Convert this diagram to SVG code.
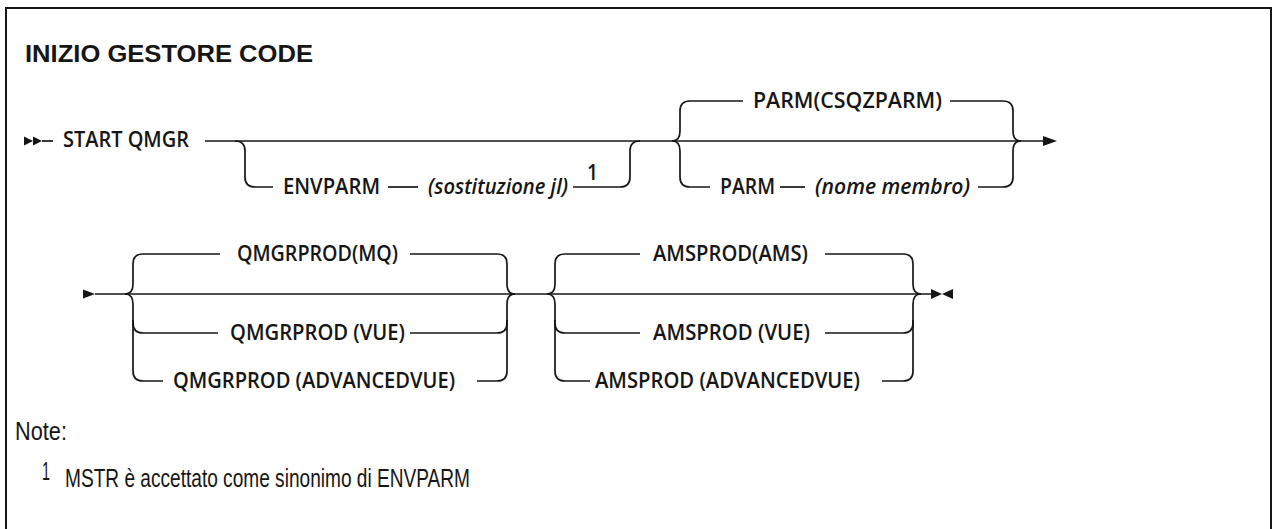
<svg xmlns="http://www.w3.org/2000/svg" width="1273" height="529" viewBox="0 0 1273 529">
<style>
.t{font-family:"Open Sans","Liberation Sans",Arial,sans-serif;font-size:21px;font-weight:600;fill:#161616}
.i{font-style:italic}
.ttl{font-family:"Liberation Sans",Arial,sans-serif;font-size:24px;font-weight:bold;fill:#161616}
.n{font-family:"Liberation Sans",Arial,sans-serif;font-size:25px;fill:#161616}
.ln{fill:none;stroke:#161616;stroke-width:1.7}
.ah{fill:#161616;stroke:none}
</style>
<rect x="6" y="8" width="1265" height="600" fill="#fff" stroke="#161616" stroke-width="2"/>
<g id="title"><text class="ttl" x="25" y="62" textLength="288" lengthAdjust="spacingAndGlyphs">INIZIO GESTORE CODE</text></g>

<g id="connectors">
  <polygon class="ah" points="24,136.5 33,141 24,145.5"/>
  <polygon class="ah" points="33,136.5 42,141 33,145.5"/>
  <path class="ln" d="M42,141 H53"/>
  <path class="ln" d="M205,141 H1044"/>
  <polygon class="ah" points="1043,136 1057,141 1043,146"/>
  <path class="ln" d="M235,141 Q245,141 245,151 V177 Q245,187 255,187 H273"/>
  <path class="ln" d="M388,187 H418"/>
  <path class="ln" d="M573,187 H620 Q630,187 630,177 V151 Q630,141 640,141"/>
  <path class="ln" d="M672,141 Q680,141 680,131 V111 Q680,101 690,101 H743"/>
  <path class="ln" d="M950,101 H1003 Q1013,101 1013,111 V131 Q1013,141 1021,141"/>
  <path class="ln" d="M672,141 Q680,141 680,151 V177 Q680,187 690,187 H710"/>
  <path class="ln" d="M780,187 H805"/>
  <path class="ln" d="M978,187 H1003 Q1013,187 1013,177 V151 Q1013,141 1021,141"/>
  <polygon class="ah" points="83,289.5 95,294 83,298.5"/>
  <path class="ln" d="M95,294 H931"/>
  <path class="ln" d="M125,294 Q133,294 133,284 V264 Q133,254 143,254 H220"/>
  <path class="ln" d="M410,254 H497 Q507,254 507,264 V284 Q507,294 515,294"/>
  <path class="ln" d="M125,294 Q133,294 133,304 V323 Q133,333 143,333 H218"/>
  <path class="ln" d="M410,333 H497 Q507,333 507,323 V304 Q507,294 515,294"/>
  <path class="ln" d="M133,320 V371 Q133,381 143,381 H163"/>
  <path class="ln" d="M477,381 H497 Q507,381 507,371 V320"/>
  <path class="ln" d="M547,294 Q555,294 555,284 V264 Q555,254 565,254 H640"/>
  <path class="ln" d="M825,254 H903 Q913,254 913,264 V284 Q913,294 921,294"/>
  <path class="ln" d="M547,294 Q555,294 555,304 V323 Q555,333 565,333 H640"/>
  <path class="ln" d="M825,333 H903 Q913,333 913,323 V304 Q913,294 921,294"/>
  <path class="ln" d="M555,320 V371 Q555,381 565,381 H590"/>
  <path class="ln" d="M882,381 H903 Q913,381 913,371 V320"/>
  <polygon class="ah" points="931,289 942,294 931,299"/>
  <polygon class="ah" points="953,289 942,294 953,299"/>
</g>

<g id="start-qmgr"><text class="t" x="63" y="147" textLength="126" lengthAdjust="spacingAndGlyphs">START QMGR</text></g>
<g id="envparm">
  <text class="t" x="283" y="194" textLength="97" lengthAdjust="spacingAndGlyphs">ENVPARM</text>
  <text class="t i" x="428" y="194" textLength="140" lengthAdjust="spacingAndGlyphs">(sostituzione jl)</text>
  <text class="t" x="587" y="180" font-size="18" textLength="11" lengthAdjust="spacingAndGlyphs">1</text>
</g>
<g id="parm-default"><text class="t" x="753" y="108" textLength="189" lengthAdjust="spacingAndGlyphs">PARM(CSQZPARM)</text></g>
<g id="parm-member">
  <text class="t" x="720" y="194" textLength="55" lengthAdjust="spacingAndGlyphs">PARM</text>
  <text class="t i" x="815" y="194" textLength="155" lengthAdjust="spacingAndGlyphs">(nome membro)</text>
</g>
<g id="qmgrprod-mq"><text class="t" x="237" y="261" textLength="161" lengthAdjust="spacingAndGlyphs">QMGRPROD(MQ)</text></g>
<g id="qmgrprod-vue"><text class="t" x="230" y="340" textLength="175" lengthAdjust="spacingAndGlyphs">QMGRPROD (VUE)</text></g>
<g id="qmgrprod-advancedvue"><text class="t" x="173" y="388" textLength="282" lengthAdjust="spacingAndGlyphs">QMGRPROD (ADVANCEDVUE)</text></g>
<g id="amsprod-ams"><text class="t" x="653" y="261" textLength="155" lengthAdjust="spacingAndGlyphs">AMSPROD(AMS)</text></g>
<g id="amsprod-vue"><text class="t" x="653" y="340" textLength="157" lengthAdjust="spacingAndGlyphs">AMSPROD (VUE)</text></g>
<g id="amsprod-advancedvue"><text class="t" x="595" y="388" textLength="265" lengthAdjust="spacingAndGlyphs">AMSPROD (ADVANCEDVUE)</text></g>

<g id="notes">
  <text class="n" x="15" y="440" textLength="52" lengthAdjust="spacingAndGlyphs">Note:</text>
  <text class="n" x="42" y="480" font-size="17" textLength="8" lengthAdjust="spacingAndGlyphs">1</text>
  <text class="n" x="65" y="487" textLength="405" lengthAdjust="spacingAndGlyphs">MSTR è accettato come sinonimo di ENVPARM</text>
</g>
</svg>
